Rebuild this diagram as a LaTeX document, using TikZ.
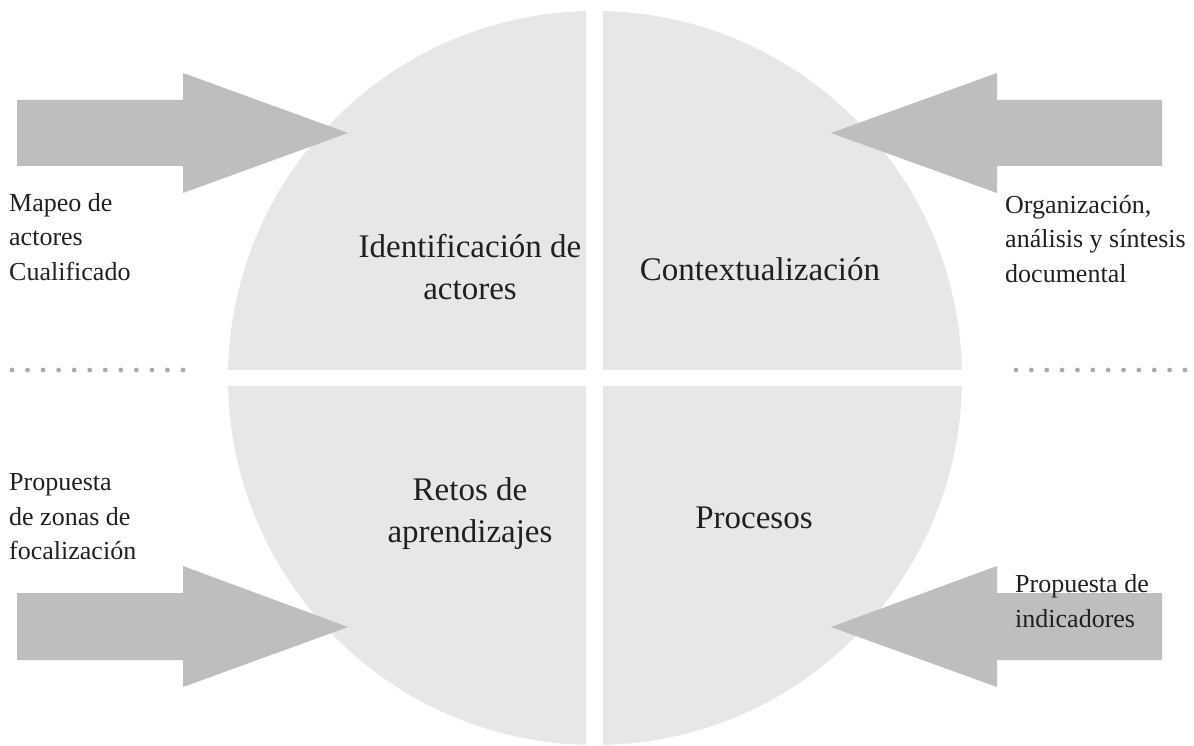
\documentclass[tikz,border=0pt]{standalone}
\usepackage{fontspec}
\setmainfont{Liberation Serif}
\definecolor{circlegray}{HTML}{E6E7E8}
\definecolor{arrowgray}{HTML}{BCBEC0}
\definecolor{dotgray}{HTML}{A7A9AC}
\definecolor{textblack}{HTML}{231F20}
\begin{document}
\begin{tikzpicture}[x=1pt,y=-1pt,
  quad/.style={fill=circlegray},
  bigarrow/.style={fill=arrowgray},
  dotmark/.style={fill=dotgray},
  sidelabel/.style={inner sep=0pt, align=left, text=textblack,
    font=\fontsize{26}{34.5}\selectfont},
  quadlabel/.style={inner sep=0pt, align=center, text=textblack,
    font=\fontsize{33}{42}\selectfont}]
\useasboundingbox (0,0) rectangle (1194,746);
% circle split in four quadrants
\coordinate (c) at (595,378);
\begin{scope}
  \clip (c) circle (367);
  \fill[quad] (0,0) rectangle (586,370);
  \fill[quad] (603,0) rectangle (1194,370);
  \fill[quad] (0,386) rectangle (586,746);
  \fill[quad] (603,386) rectangle (1194,746);
\end{scope}
% arrows
\fill[bigarrow] (17,100) -- (183,100) -- (183,73) -- (348,133) -- (183,193) -- (183,166) -- (17,166) -- cycle;
\fill[bigarrow] (17,593) -- (183,593) -- (183,566) -- (348,627) -- (183,687) -- (183,660) -- (17,660) -- cycle;
\fill[bigarrow] (1162,100) -- (997,100) -- (997,73) -- (831,133) -- (997,193) -- (997,166) -- (1162,166) -- cycle;
\fill[bigarrow] (1162,593) -- (997,593) -- (997,566) -- (831,627) -- (997,687) -- (997,660) -- (1162,660) -- cycle;
% dotted separators
\foreach \k in {0,...,12} \fill[dotmark] (183-15.55*\k,370) circle (2.4);
\foreach \k in {0,...,11} \fill[dotmark] (1016+15.36*\k,370) circle (2.4);
% side labels
\node[sidelabel, anchor=west] (tl) at (9,237) {Mapeo de\\actores\\Cualificado};
\node[sidelabel, anchor=west] (tr) at (1005,239) {Organización,\\análisis y síntesis\\documental};
\node[sidelabel, anchor=west] (bl) at (9,517) {Propuesta\\de zonas de\\focalización};
\node[sidelabel, anchor=west] (br) at (1015,601) {Propuesta de\\indicadores};
% quadrant labels
\node[quadlabel] (q1) at (470,267) {Identificación de\\actores};
\node[quadlabel] (q2) at (760,269) {Contextualización};
\node[quadlabel] (q3) at (470,514) {Retos de\\aprendizajes};
\node[quadlabel] (q4) at (754,518) {Procesos};
\end{tikzpicture}
\end{document}
